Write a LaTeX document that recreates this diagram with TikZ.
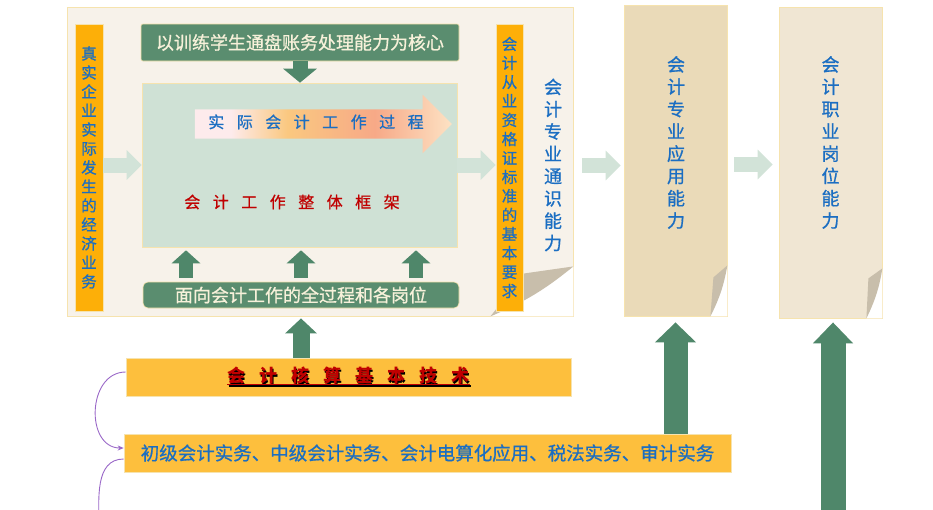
\documentclass[tikz,border=0pt]{standalone}
\usepackage{fontspec}
\newfontfamily\cjk{Noto Sans CJK SC}
\newfontfamily\cjkm{Noto Sans CJK SC}[FakeBold=0.8]
\usetikzlibrary{positioning, arrows.meta, shapes.misc, shapes.arrows}
\definecolor{barorange}{HTML}{FDAF08}
\definecolor{boxorange}{HTML}{FDBF3D}
\definecolor{dgreen}{HTML}{5A8D6F}
\definecolor{agreen}{HTML}{4F876A}
\definecolor{panelgreen}{HTML}{CFE1D5}
\definecolor{lgreen}{HTML}{D2E3D8}
\definecolor{paperA}{HTML}{F7F2EA}
\definecolor{paperB}{HTML}{EADAB8}
\definecolor{paperC}{HTML}{F0E6D3}
\definecolor{paperedge}{HTML}{F6E3AE}
\definecolor{curlgray}{HTML}{C8BEAB}
\definecolor{tblue}{HTML}{1B6EC2}
\definecolor{tred}{HTML}{C00000}
\definecolor{cream}{HTML}{F7F1DA}
\definecolor{lilac}{HTML}{9A68C8}
\definecolor{procA}{HTML}{FDEBEC}
\definecolor{procB}{HTML}{FAC880}
\definecolor{procC}{HTML}{F7A987}
\definecolor{procD}{HTML}{FDE2C4}
\pgfdeclarehorizontalshading{procshade}{100bp}{color(0bp)=(procA); color(25bp)=(procA);
  color(32bp)=(procA); color(43bp)=(procB); color(60bp)=(procC); color(75bp)=(procD); color(100bp)=(procD)}

% spaced characters
\newcommand{\cg}{\hspace{0.78em}}
% thick underline and dark shadow for the title
\newcommand{\ulbar}[1]{\setbox0\hbox{#1}\rlap{\rule[-2.5pt]{\wd0}{1.4pt}}\box0}
\newcommand{\shadowul}[1]{\rlap{\kern1.2pt\raisebox{-1.2pt}{\color{black}\ulbar{#1}}}\ulbar{#1}}
% folded corner of a paper node
\newcommand{\pcurl}[4]{%
  \fill[white] (#1.south east) -- ([yshift=#3]#1.south east) -- ([xshift=-#2]#1.south east) -- cycle;
  \fill[curlgray] ([yshift=#3]#1.south east) to[bend left=8] ([xshift=-#2]#1.south east)
    -- ([shift={#4}]#1.south east) -- cycle;}

\begin{document}
\begin{tikzpicture}[x=1pt, y=-1pt,
      every node/.style={font=\cjk},
      paper/.style={draw=paperedge, line width=0.8pt, inner sep=0pt, minimum width=103pt, minimum height=311pt},
      bar/.style={fill=barorange, draw=paperedge, line width=0.6pt, inner sep=0pt,
                  minimum width=28pt, minimum height=287pt, align=center, text=tblue,
                  font=\cjkm\fontsize{15.5}{19}\selectfont},
      gbox/.style={fill=dgreen, draw=paperedge, line width=0.6pt, inner sep=0pt, text=cream,
                   font=\cjkm\fontsize{18}{20}\selectfont},
      obox/.style={fill=boxorange, draw=paperedge, line width=0.6pt, inner sep=0pt, minimum height=38pt},
      vtext/.style={align=center, text=tblue, font=\cjkm\fontsize{18}{22.3}\selectfont},
      lnk/.style={draw=lgreen, line width=15pt, -{Triangle[length=15pt, width=29pt]}},
      garrow/.style n args={3}{draw=agreen, line width=#1, -{Triangle[length=#2, width=#3]}},
      curv/.style={draw=lilac, line width=0.9pt, -{Stealth[length=6pt, width=5pt]}},
    ]
    \useasboundingbox (0,0) rectangle (933,509);
    \fill[white] (0,0) rectangle (933,509);

    % left paper
    \node[paper, fill=paperA, minimum width=506pt, minimum height=309pt] (sheet) at (320,161.5) {};
    \pcurl{sheet}{83pt}{50pt}{(-49,-43)}

    \node[bar] (leftbar) at (89,167.5)
      {真\\实\\企\\业\\实\\际\\发\\生\\的\\经\\济\\业\\务};
    \node[bar, minimum width=27pt] (rightbar) at (509.5,167.5)
      {会\\计\\从\\业\\资\\格\\证\\标\\准\\的\\基\\本\\要\\求};

    \node[gbox, rounded corners=2pt, minimum width=318pt, minimum height=37pt] (core) at (300,42.5)
      {以训练学生通盘账务处理能力为核心};
    \node[chamfered rectangle, chamfered rectangle corners=north east,
          chamfered rectangle xsep=27pt, chamfered rectangle ysep=27pt,
          fill=panelgreen, draw=paperedge, line width=0.6pt, inner sep=0pt,
          minimum width=315pt, minimum height=164pt] (panel) at (299.5,165) {};
    \node[single arrow, shade, shading=procshade, draw=none,
          single arrow head extend=14.5pt, inner xsep=6pt, inner ysep=7.5pt,
          text height=11pt, text depth=3pt, minimum height=257pt, minimum width=58pt,
          text=tblue, font=\cjkm\fontsize{16}{18}\selectfont] (process) at (316,124)
      {实\cg 际\cg 会\cg 计\cg 工\cg 作\cg 过\cg 程};
    \node[text=tred, font=\cjkm\fontsize{16}{18}\selectfont] (frame) at (292,202)
      {会\cg 计\cg 工\cg 作\cg 整\cg 体\cg 框\cg 架};
    \node[gbox, rounded corners=5pt, minimum width=316pt, minimum height=26pt] (posts) at (301,295)
      {面向会计工作的全过程和各岗位};

    \draw[lnk] (leftbar.east |- panel.west) -- (panel.west);
    \draw[lnk] (panel.east) -- (panel.east -| rightbar.west);
    \draw[garrow={15pt}{14pt}{33pt}] (core.south) -- (core.south |- panel.north);
    \foreach \dx in {-115,0,115}
      \draw[garrow={14pt}{13pt}{28pt}, shorten <=4pt, shorten >=3pt]
        ([xshift=\dx pt]posts.north) -- ([xshift=\dx pt]posts.north |- panel.south);

    \node[vtext] (general) at (553,165) {会\\计\\专\\业\\通\\识\\能\\力};

    % middle and right papers
    \node[paper, fill=paperB] (applied) at (675.5,160.5) {};
    \pcurl{applied}{17pt}{51pt}{(-14,-39)}
    \node[paper, fill=paperC] (career) at (830.5,162.5) {};
    \pcurl{career}{16pt}{50pt}{(-14,-40)}
    \node[vtext] (appskill) at (676,142.5) {会\\计\\专\\业\\应\\用\\能\\力};
    \node[vtext] (jobskill) at (830.5,142.5) {会\\计\\职\\业\\岗\\位\\能\\力};

    \draw[lnk, shorten <=9pt, shorten >=3pt] ([yshift=-4pt]sheet.east) -- ([yshift=-4pt]sheet.east -| applied.west);
    \draw[lnk, shorten <=7pt, shorten >=6pt] ([yshift=-4pt]applied.east) -- ([yshift=-4pt]applied.east -| career.west);

    % bottom boxes
    \node[obox, minimum width=445pt] (basics) at (348.5,377)
      {\fontsize{18}{20}\selectfont\bfseries\color{tred}\shadowul{会\cg 计\cg 核\cg 算\cg 基\cg 本\cg 技\cg 术}};
    \node[obox, minimum width=607pt, text=tblue, font=\cjkm\fontsize{18.5}{20}\selectfont] (courses) at (427.5,453)
      {初级会计实务、中级会计实务、会计电算化应用、税法实务、审计实务};

    \draw[garrow={17pt}{15pt}{31pt}, shorten >=2pt] (basics.north -| posts.north) -- (sheet.south -| posts.north);
    \draw[garrow={24pt}{20pt}{40pt}, shorten >=6pt] (courses.north -| applied.south) -- (applied.south);
    \coordinate (below) at (833,540);
    \draw[garrow={25pt}{21pt}{39pt}, shorten >=4pt] (below) -- (below |- career.south);

    \draw[curv] ([yshift=5pt]basics.west) to[out=180, in=180, looseness=1.3] ([yshift=5pt]courses.west);
    \coordinate (further) at (99,530);
    \draw[curv] ([yshift=-6pt]courses.west) to[out=180, in=90] (further);
\end{tikzpicture}
\end{document}
